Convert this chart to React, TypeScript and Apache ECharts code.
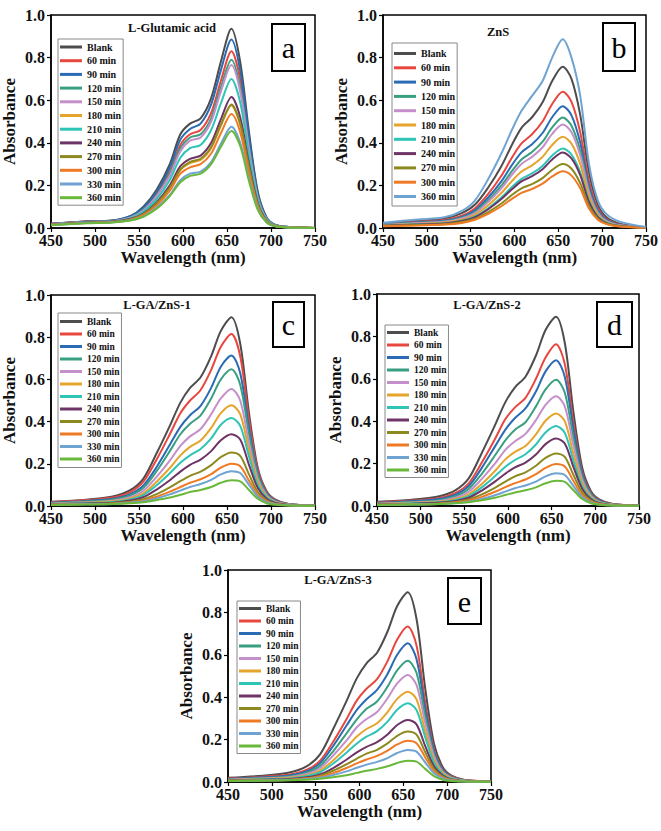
import React, { useEffect, useRef } from "react";
import * as echarts from "echarts";

const FONT = "Liberation Serif";

const wavelengths = [450, 490, 520, 540, 555, 570, 585, 597, 608, 620, 632, 643, 655, 665, 675, 685, 695, 705, 720, 750];

const timeLabels = ["Blank", "60 min", "90 min", "120 min", "150 min", "180 min", "210 min", "240 min", "270 min", "300 min", "330 min", "360 min"];
const znsLabels = ["Blank", "60 min", "90 min", "120 min", "150 min", "180 min", "210 min", "240 min", "270 min", "300 min", "360 min"];

const seriesColors = ["#4d4d4d", "#e8473f", "#2a6bb3", "#3a9f80", "#c58fca", "#e5a42b", "#2ec4b6", "#6e3466", "#8c8a1f", "#ef7a25", "#6fa3d1", "#6ab83a"];
const znsColors = ["#4d4d4d", "#e8473f", "#2a6bb3", "#3a9f80", "#c58fca", "#e5a42b", "#2ec4b6", "#6e3466", "#8c8a1f", "#ef7a25", "#6fa3d1"];

// (a) L-Glutamic acid
const glutamicAcid = [
  [0.02, 0.03, 0.035, 0.055, 0.1, 0.18, 0.3, 0.44, 0.49, 0.515, 0.61, 0.78, 0.935, 0.78, 0.45, 0.17, 0.05, 0.015, 0.005, 0],
  [0.02, 0.03, 0.034, 0.052, 0.09, 0.16, 0.265, 0.39, 0.44, 0.46, 0.54, 0.69, 0.83, 0.7, 0.4, 0.15, 0.045, 0.013, 0.004, 0],
  [0.02, 0.03, 0.035, 0.055, 0.095, 0.17, 0.285, 0.415, 0.465, 0.49, 0.58, 0.74, 0.885, 0.74, 0.43, 0.16, 0.048, 0.014, 0.005, 0],
  [0.018, 0.028, 0.033, 0.05, 0.085, 0.152, 0.255, 0.375, 0.425, 0.44, 0.515, 0.66, 0.79, 0.66, 0.38, 0.145, 0.043, 0.013, 0.004, 0],
  [0.018, 0.028, 0.032, 0.048, 0.082, 0.148, 0.245, 0.36, 0.41, 0.425, 0.5, 0.64, 0.765, 0.64, 0.37, 0.14, 0.042, 0.012, 0.004, 0],
  [0.015, 0.025, 0.029, 0.04, 0.064, 0.113, 0.188, 0.272, 0.305, 0.32, 0.375, 0.48, 0.575, 0.485, 0.28, 0.108, 0.032, 0.01, 0.003, 0],
  [0.017, 0.027, 0.031, 0.045, 0.076, 0.135, 0.225, 0.33, 0.375, 0.39, 0.46, 0.585, 0.7, 0.59, 0.34, 0.13, 0.038, 0.011, 0.003, 0],
  [0.016, 0.026, 0.03, 0.042, 0.068, 0.12, 0.2, 0.29, 0.325, 0.34, 0.4, 0.51, 0.615, 0.52, 0.3, 0.115, 0.034, 0.01, 0.003, 0],
  [0.016, 0.025, 0.029, 0.04, 0.065, 0.115, 0.19, 0.275, 0.31, 0.325, 0.38, 0.485, 0.58, 0.49, 0.285, 0.11, 0.032, 0.01, 0.003, 0],
  [0.015, 0.024, 0.028, 0.038, 0.06, 0.105, 0.175, 0.255, 0.285, 0.3, 0.35, 0.445, 0.535, 0.45, 0.26, 0.1, 0.03, 0.009, 0.003, 0],
  [0.014, 0.023, 0.027, 0.036, 0.055, 0.095, 0.155, 0.225, 0.255, 0.265, 0.31, 0.395, 0.475, 0.4, 0.23, 0.09, 0.027, 0.008, 0.002, 0],
  [0.013, 0.022, 0.026, 0.035, 0.053, 0.09, 0.15, 0.215, 0.245, 0.255, 0.3, 0.38, 0.455, 0.385, 0.22, 0.085, 0.026, 0.008, 0.002, 0],
];

// (b) ZnS
const zincSulfide = [
  [0.02, 0.035, 0.045, 0.07, 0.11, 0.19, 0.29, 0.39, 0.47, 0.52, 0.59, 0.69, 0.757, 0.7, 0.53, 0.26, 0.11, 0.05, 0.02, 0.003],
  [0.018, 0.03, 0.038, 0.058, 0.093, 0.16, 0.245, 0.33, 0.397, 0.44, 0.5, 0.582, 0.64, 0.592, 0.448, 0.22, 0.093, 0.042, 0.017, 0.003],
  [0.016, 0.027, 0.034, 0.052, 0.083, 0.143, 0.219, 0.295, 0.355, 0.393, 0.446, 0.52, 0.572, 0.529, 0.4, 0.196, 0.083, 0.038, 0.015, 0.002],
  [0.015, 0.025, 0.031, 0.048, 0.075, 0.13, 0.199, 0.267, 0.322, 0.357, 0.405, 0.472, 0.519, 0.48, 0.363, 0.178, 0.075, 0.034, 0.013, 0.002],
  [0.014, 0.023, 0.029, 0.045, 0.07, 0.122, 0.186, 0.25, 0.301, 0.334, 0.379, 0.442, 0.486, 0.45, 0.34, 0.167, 0.07, 0.032, 0.013, 0.002],
  [0.012, 0.02, 0.026, 0.039, 0.062, 0.107, 0.164, 0.22, 0.265, 0.294, 0.334, 0.39, 0.428, 0.396, 0.3, 0.147, 0.062, 0.028, 0.011, 0.002],
  [0.011, 0.018, 0.022, 0.034, 0.054, 0.093, 0.143, 0.192, 0.231, 0.256, 0.291, 0.34, 0.373, 0.345, 0.261, 0.128, 0.054, 0.025, 0.01, 0.001],
  [0.01, 0.017, 0.021, 0.033, 0.051, 0.088, 0.136, 0.182, 0.219, 0.243, 0.276, 0.322, 0.354, 0.327, 0.248, 0.121, 0.051, 0.023, 0.009, 0.001],
  [0.009, 0.014, 0.018, 0.028, 0.044, 0.075, 0.115, 0.155, 0.186, 0.206, 0.234, 0.273, 0.3, 0.278, 0.21, 0.103, 0.044, 0.02, 0.008, 0.001],
  [0.008, 0.012, 0.016, 0.024, 0.039, 0.066, 0.102, 0.137, 0.165, 0.183, 0.208, 0.242, 0.266, 0.246, 0.186, 0.091, 0.039, 0.018, 0.007, 0.001],
  [0.025, 0.04, 0.05, 0.08, 0.13, 0.23, 0.35, 0.46, 0.55, 0.62, 0.69, 0.8, 0.886, 0.8, 0.62, 0.3, 0.13, 0.065, 0.03, 0.005],
];

// (c) L-GA/ZnS-1
const gaZnS1 = [
  [0.02, 0.03, 0.045, 0.075, 0.13, 0.25, 0.38, 0.49, 0.56, 0.61, 0.71, 0.83, 0.895, 0.77, 0.44, 0.18, 0.07, 0.03, 0.01, 0.002],
  [0.018, 0.028, 0.04, 0.066, 0.115, 0.22, 0.34, 0.44, 0.5, 0.55, 0.645, 0.755, 0.815, 0.71, 0.41, 0.17, 0.065, 0.028, 0.009, 0.002],
  [0.015, 0.024, 0.034, 0.056, 0.097, 0.185, 0.29, 0.375, 0.43, 0.475, 0.56, 0.66, 0.713, 0.63, 0.37, 0.155, 0.06, 0.025, 0.008, 0.002],
  [0.013, 0.021, 0.03, 0.05, 0.086, 0.165, 0.26, 0.34, 0.39, 0.43, 0.51, 0.6, 0.648, 0.575, 0.34, 0.145, 0.055, 0.023, 0.008, 0.002],
  [0.011, 0.018, 0.025, 0.042, 0.072, 0.138, 0.215, 0.285, 0.33, 0.365, 0.435, 0.51, 0.555, 0.5, 0.3, 0.128, 0.05, 0.02, 0.007, 0.001],
  [0.01, 0.016, 0.022, 0.036, 0.06, 0.115, 0.18, 0.24, 0.28, 0.31, 0.37, 0.44, 0.477, 0.435, 0.265, 0.113, 0.044, 0.018, 0.006, 0.001],
  [0.009, 0.014, 0.019, 0.031, 0.052, 0.098, 0.155, 0.205, 0.24, 0.27, 0.32, 0.385, 0.417, 0.38, 0.235, 0.1, 0.04, 0.016, 0.005, 0.001],
  [0.008, 0.012, 0.016, 0.026, 0.042, 0.078, 0.122, 0.163, 0.195, 0.22, 0.26, 0.312, 0.34, 0.315, 0.195, 0.085, 0.034, 0.014, 0.005, 0.001],
  [0.007, 0.01, 0.013, 0.02, 0.032, 0.056, 0.088, 0.118, 0.143, 0.163, 0.194, 0.232, 0.254, 0.238, 0.15, 0.066, 0.027, 0.011, 0.004, 0.001],
  [0.006, 0.009, 0.011, 0.017, 0.026, 0.044, 0.068, 0.09, 0.11, 0.127, 0.151, 0.182, 0.2, 0.188, 0.12, 0.053, 0.022, 0.009, 0.003, 0.001],
  [0.006, 0.008, 0.01, 0.015, 0.022, 0.036, 0.055, 0.073, 0.09, 0.104, 0.124, 0.15, 0.165, 0.156, 0.1, 0.045, 0.018, 0.008, 0.003, 0.001],
  [0.005, 0.007, 0.009, 0.013, 0.018, 0.028, 0.04, 0.053, 0.066, 0.076, 0.09, 0.11, 0.122, 0.117, 0.076, 0.034, 0.013, 0.006, 0.002, 0],
];

// (d) L-GA/ZnS-2
const gaZnS2 = [
  [0.02, 0.03, 0.045, 0.075, 0.13, 0.25, 0.38, 0.49, 0.56, 0.61, 0.71, 0.83, 0.893, 0.77, 0.44, 0.18, 0.07, 0.03, 0.01, 0.002],
  [0.017, 0.026, 0.037, 0.062, 0.107, 0.205, 0.315, 0.41, 0.465, 0.51, 0.6, 0.7, 0.763, 0.67, 0.39, 0.16, 0.062, 0.027, 0.009, 0.002],
  [0.015, 0.023, 0.033, 0.054, 0.094, 0.18, 0.28, 0.36, 0.415, 0.46, 0.54, 0.635, 0.688, 0.61, 0.36, 0.15, 0.058, 0.024, 0.008, 0.002],
  [0.012, 0.019, 0.027, 0.046, 0.08, 0.152, 0.238, 0.31, 0.36, 0.395, 0.47, 0.55, 0.596, 0.535, 0.32, 0.136, 0.053, 0.021, 0.007, 0.001],
  [0.011, 0.017, 0.023, 0.039, 0.067, 0.128, 0.2, 0.265, 0.305, 0.34, 0.405, 0.477, 0.518, 0.47, 0.285, 0.122, 0.047, 0.019, 0.006, 0.001],
  [0.009, 0.015, 0.02, 0.033, 0.055, 0.104, 0.165, 0.22, 0.255, 0.283, 0.338, 0.402, 0.436, 0.4, 0.245, 0.106, 0.042, 0.017, 0.006, 0.001],
  [0.008, 0.013, 0.018, 0.028, 0.047, 0.088, 0.14, 0.185, 0.217, 0.244, 0.29, 0.347, 0.377, 0.345, 0.213, 0.092, 0.037, 0.015, 0.005, 0.001],
  [0.007, 0.011, 0.015, 0.024, 0.039, 0.073, 0.115, 0.153, 0.182, 0.205, 0.243, 0.292, 0.318, 0.295, 0.183, 0.08, 0.032, 0.013, 0.004, 0.001],
  [0.006, 0.009, 0.012, 0.019, 0.031, 0.055, 0.086, 0.115, 0.14, 0.159, 0.19, 0.227, 0.248, 0.232, 0.146, 0.064, 0.026, 0.011, 0.004, 0.001],
  [0.006, 0.008, 0.01, 0.016, 0.025, 0.043, 0.067, 0.089, 0.108, 0.125, 0.15, 0.18, 0.198, 0.186, 0.118, 0.052, 0.021, 0.009, 0.003, 0.001],
  [0.005, 0.007, 0.009, 0.014, 0.02, 0.033, 0.051, 0.068, 0.084, 0.097, 0.115, 0.14, 0.154, 0.146, 0.094, 0.042, 0.017, 0.007, 0.002, 0.001],
  [0.005, 0.007, 0.009, 0.013, 0.018, 0.027, 0.039, 0.052, 0.064, 0.074, 0.088, 0.107, 0.119, 0.114, 0.074, 0.033, 0.013, 0.006, 0.002, 0],
];

// (e) L-GA/ZnS-3
const gaZnS3 = [
  [0.02, 0.03, 0.045, 0.075, 0.13, 0.25, 0.38, 0.49, 0.56, 0.61, 0.71, 0.83, 0.895, 0.77, 0.44, 0.18, 0.07, 0.03, 0.01, 0.002],
  [0.016, 0.025, 0.035, 0.058, 0.1, 0.19, 0.295, 0.385, 0.44, 0.485, 0.57, 0.672, 0.733, 0.645, 0.375, 0.155, 0.06, 0.026, 0.009, 0.002],
  [0.014, 0.022, 0.031, 0.051, 0.089, 0.17, 0.265, 0.34, 0.39, 0.435, 0.51, 0.6, 0.654, 0.58, 0.345, 0.145, 0.056, 0.023, 0.008, 0.002],
  [0.012, 0.019, 0.026, 0.044, 0.076, 0.145, 0.228, 0.295, 0.345, 0.38, 0.45, 0.527, 0.572, 0.515, 0.31, 0.132, 0.051, 0.02, 0.007, 0.001],
  [0.011, 0.017, 0.023, 0.038, 0.065, 0.125, 0.195, 0.258, 0.297, 0.33, 0.395, 0.465, 0.505, 0.458, 0.278, 0.12, 0.046, 0.019, 0.006, 0.001],
  [0.009, 0.015, 0.02, 0.032, 0.054, 0.102, 0.162, 0.215, 0.25, 0.277, 0.33, 0.392, 0.426, 0.39, 0.24, 0.104, 0.041, 0.017, 0.006, 0.001],
  [0.008, 0.013, 0.017, 0.028, 0.046, 0.087, 0.138, 0.182, 0.214, 0.24, 0.285, 0.341, 0.371, 0.34, 0.21, 0.091, 0.036, 0.015, 0.005, 0.001],
  [0.007, 0.011, 0.014, 0.022, 0.036, 0.066, 0.105, 0.14, 0.166, 0.188, 0.224, 0.269, 0.293, 0.272, 0.169, 0.074, 0.03, 0.012, 0.004, 0.001],
  [0.006, 0.009, 0.012, 0.018, 0.03, 0.053, 0.083, 0.11, 0.134, 0.152, 0.182, 0.218, 0.238, 0.223, 0.14, 0.062, 0.025, 0.01, 0.003, 0.001],
  [0.006, 0.008, 0.01, 0.016, 0.025, 0.042, 0.066, 0.088, 0.106, 0.123, 0.148, 0.177, 0.195, 0.183, 0.116, 0.051, 0.021, 0.009, 0.003, 0.001],
  [0.005, 0.007, 0.009, 0.014, 0.02, 0.033, 0.05, 0.067, 0.082, 0.095, 0.113, 0.137, 0.151, 0.143, 0.092, 0.041, 0.017, 0.007, 0.002, 0.001],
  [0.005, 0.006, 0.008, 0.011, 0.015, 0.022, 0.032, 0.043, 0.053, 0.062, 0.074, 0.09, 0.1, 0.096, 0.062, 0.028, 0.011, 0.005, 0.002, 0],
];

const xTicks = { min: 450, max: 750, interval: 50 };
const yTicks = { min: 0, max: 1, interval: 0.2 };

const panels = [
  { title: "L-Glutamic acid", letter: "a", labels: timeLabels, colors: seriesColors, data: glutamicAcid,
    grid: { left: 50, top: 15, width: 265, height: 213 }, legend: { left: 58, top: 39, gap: 2.7, pad: [2.5, 2, 2, 2], fs: 10 },
    titlePos: [172, 28], box: [272, 24, 33, 47] },
  { title: "ZnS", letter: "b", labels: znsLabels, colors: znsColors, data: zincSulfide,
    grid: { left: 383, top: 15, width: 263, height: 213 }, legend: { left: 392, top: 43, gap: 3.3, pad: [5, 2, 4, 2], fs: 10 },
    titlePos: [498, 32], box: [603, 23, 32, 48] },
  { title: "L-GA/ZnS-1", letter: "c", labels: timeLabels, colors: seriesColors, data: gaZnS1,
    grid: { left: 50, top: 295, width: 265, height: 211 }, legend: { left: 58, top: 313, gap: 1.5, pad: [3, 2, 3, 2], fs: 9.5 },
    titlePos: [157, 305], box: [273, 302, 31, 45] },
  { title: "L-GA/ZnS-2", letter: "d", labels: timeLabels, colors: seriesColors, data: gaZnS2,
    grid: { left: 377, top: 294, width: 262, height: 212 }, legend: { left: 385, top: 325, gap: 1.5, pad: [2, 2, 2, 2], fs: 9.5 },
    titlePos: [487, 305], box: [597, 302, 35, 45] },
  { title: "L-GA/ZnS-3", letter: "e", labels: timeLabels, colors: seriesColors, data: gaZnS3,
    grid: { left: 228, top: 570, width: 263, height: 212 }, legend: { left: 237, top: 601, gap: 1.5, pad: [2, 2, 2, 2], fs: 9.5 },
    titlePos: [338, 580], box: [448, 578, 33, 46] },
];

function buildOption() {
  const grid: any[] = [];
  const xAxis: any[] = [];
  const yAxis: any[] = [];
  const legend: any[] = [];
  const series: any[] = [];
  const graphic: any[] = [];

  panels.forEach((p, i) => {
    grid.push({ ...p.grid, show: true, borderColor: "#000", borderWidth: 1.5, backgroundColor: "transparent" });
    xAxis.push({
      gridIndex: i, type: "value", ...xTicks,
      name: "Wavelength (nm)", nameLocation: "middle", nameGap: 21,
      nameTextStyle: { fontFamily: FONT, fontWeight: "bold", fontSize: 17, color: "#111" },
      axisLine: { show: true, onZero: false, lineStyle: { color: "#000", width: 1.5 } },
      axisTick: { show: true, inside: false, length: 4, lineStyle: { color: "#000", width: 1.2 } },
      axisLabel: { fontFamily: FONT, fontWeight: "bold", fontSize: 16, color: "#111", margin: 4 },
      splitLine: { show: false },
    });
    yAxis.push({
      gridIndex: i, type: "value", ...yTicks,
      name: "Absorbance", nameLocation: "middle", nameGap: 33, nameRotate: 90,
      nameTextStyle: { fontFamily: FONT, fontWeight: "bold", fontSize: 17, color: "#111" },
      axisLine: { show: true, onZero: false, lineStyle: { color: "#000", width: 1.5 } },
      axisTick: { show: true, inside: false, length: 4, lineStyle: { color: "#000", width: 1.2 } },
      axisLabel: { fontFamily: FONT, fontWeight: "bold", fontSize: 16, color: "#111", margin: 6,
        formatter: (v: number) => v.toFixed(1) },
      splitLine: { show: false },
    });
    legend.push({
      orient: "vertical", left: p.legend.left, top: p.legend.top,
      icon: "rect", itemWidth: 22, itemHeight: 3, itemGap: p.legend.gap, itemTextGap: 4,
      padding: p.legend.pad, borderColor: "#888", borderWidth: 1, selectedMode: false,
      textStyle: { fontFamily: FONT, fontWeight: "bold", fontSize: p.legend.fs, color: "#111", lineHeight: 11 },
      data: p.labels.map((n, k) => ({ name: n, itemStyle: { color: p.colors[k], borderWidth: 0 } })),
    });
    p.labels.forEach((n, k) => {
      series.push({
        type: "line", name: n, xAxisIndex: i, yAxisIndex: i,
        data: wavelengths.map((w, j) => [w, p.data[k][j]]),
        smooth: 0.3, showSymbol: false, symbol: "none",
        lineStyle: { color: p.colors[k], width: 2 }, itemStyle: { color: p.colors[k] },
      });
    });
    graphic.push({
      type: "text", x: p.titlePos[0], y: p.titlePos[1],
      style: { text: p.title, fontFamily: FONT, fontWeight: "bold", fontSize: 12.5, fill: "#111", align: "center", verticalAlign: "middle" },
    });
    graphic.push({
      type: "rect", shape: { x: p.box[0], y: p.box[1], width: p.box[2], height: p.box[3] },
      style: { fill: "#fff", stroke: "#000", lineWidth: 2 },
    });
    graphic.push({
      type: "text", x: p.box[0] + p.box[2] / 2, y: p.box[1] + p.box[3] / 2,
      style: { text: p.letter, fontFamily: FONT, fontSize: 30, fill: "#000", align: "center", verticalAlign: "middle" },
    });
  });

  return { animation: false, backgroundColor: "#fff", grid, xAxis, yAxis, legend, series, graphic };
}

export default function App() {
  const ref = useRef<HTMLDivElement>(null);
  useEffect(() => {
    if (!ref.current) return;
    const chart = echarts.init(ref.current, undefined, { renderer: "svg" });
    chart.setOption(buildOption() as any);
    return () => chart.dispose();
  }, []);
  return <div ref={ref} style={{ position: "absolute", left: 0, top: 0, width: 661, height: 831 }} />;
}
